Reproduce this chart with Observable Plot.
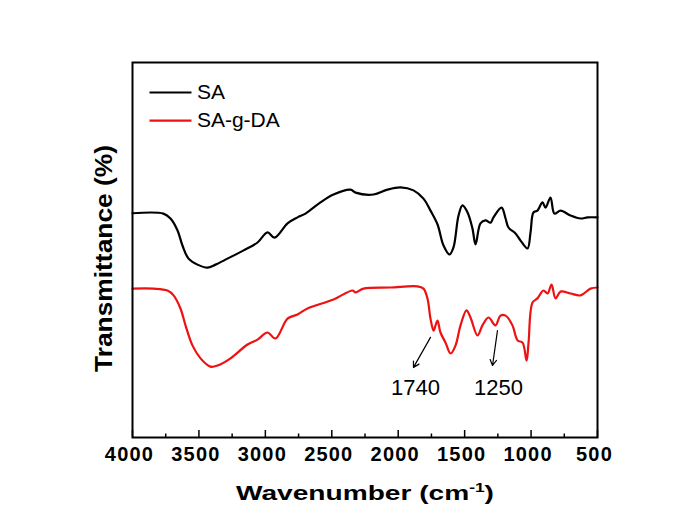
<!DOCTYPE html>
<html>
<head>
<meta charset="utf-8">
<script src="https://cdn.jsdelivr.net/npm/d3@7"></script>
<script src="https://cdn.jsdelivr.net/npm/@observablehq/plot@0.6"></script>
<style>
  html, body { margin: 0; padding: 0; background: #fff; }
  #chart svg { font-family: "Liberation Sans", Arial, sans-serif; }
  g[aria-label="x-axis tick label"] text { letter-spacing: 1.2px; }
</style>
</head>
<body>
<div id="chart"></div>
<script>
// ---- data (y is relative transmittance) ----
const saWavenumber = [4000,3767,3714,3661,3624,3578,3511,3435,3375,3285,3164,3059,2984,2931,2833,2758,2698,2585,2487,2359,2321,2186,2081,1983,1885,1810,1757,1704,1659,1614,1584,1546,1516,1478,1441,1418,1381,1343,1305,1283,1222,1192,1170,1117,1079,1027,1004,982,952,914,891,854,824,778,703,628,575,500];
const saTransmittance = [59.8,59.7,58.4,55.2,51.2,47.7,46.1,45.3,46.1,47.7,49.9,52.0,54.7,53.3,57.1,58.7,59.7,62.7,64.8,66.1,65.3,64.8,66.1,66.7,65.9,63.7,60.5,56.8,51.2,48.8,50.7,59.2,61.9,60.0,55.7,51.5,57.1,57.9,57.3,58.7,61.3,58.4,56.0,54.4,52.5,50.4,54.7,60.0,60.5,62.7,61.3,64.0,59.7,60.5,59.2,58.4,58.7,58.7];

const sagdaWavenumber = [4000,3842,3737,3691,3639,3601,3548,3488,3413,3360,3262,3134,3059,2984,2924,2833,2758,2683,2487,2344,2321,2261,2058,1855,1810,1780,1757,1734,1719,1704,1682,1644,1606,1569,1531,1486,1456,1403,1366,1320,1268,1230,1192,1140,1102,1064,1034,1019,989,952,907,876,846,816,778,703,628,553,500];
const sagdaTransmittance = [39.7,39.7,39.2,37.9,34.4,29.9,24.5,21.1,18.9,19.2,21.1,24.8,26.1,28.0,26.4,31.7,32.8,34.4,36.8,39.2,38.7,39.7,40.0,40.3,39.7,37.1,31.7,28.5,29.9,31.2,28.0,25.3,22.4,24.5,29.9,33.9,32.0,27.2,29.9,32.0,29.9,32.5,32.5,29.9,25.9,25.3,20.5,25.3,36.0,37.1,39.2,38.4,40.8,37.1,38.9,38.4,37.9,39.7,40.0];

const seriesNames = ["SA", "SA-g-DA"];
const seriesColors = ["#000000", "#ee1111"];

const xTicks = [4000, 3500, 3000, 2500, 2000, 1500, 1000, 500];
const xMinorTicks = [3750, 3250, 2750, 2250, 1750, 1250, 750];

const annotationLabels = ["1740", "1250"];

// ---- tables ----
const sa = saWavenumber.map((w, i) => ({w, t: saTransmittance[i]}));
const sagda = sagdaWavenumber.map((w, i) => ({w, t: sagdaTransmittance[i]}));
const legend = seriesNames.map((name, i) => ({name, color: seriesColors[i], row: i}));
const arrows = [
  {label: annotationLabels[0], x1: 1757, y1: 26.7, x2: 1885, y2: 18.7, tx: 1870},
  {label: annotationLabels[1], x1: 1253, y1: 28.5, x2: 1290, y2: 19.2, tx: 1245}
];

const font = "Liberation Sans, Arial, sans-serif";

const chart = Plot.plot({
  width: 678,
  height: 515,
  marginLeft: 132,
  marginRight: 81,
  marginTop: 62,
  marginBottom: 78,
  style: {fontFamily: font, background: "#fff", color: "#000"},
  x: {domain: [4000, 500]},
  y: {domain: [0, 100], axis: null},
  marks: [
    Plot.axisX({ticks: xTicks, tickSize: -7, text: null, strokeWidth: 1.5}),
    Plot.axisX({ticks: xMinorTicks, tickSize: -3.5, text: null, strokeWidth: 1.5}),
    Plot.axisX({ticks: xTicks, tickSize: 0, tickPadding: 9, tickFormat: d => String(d), fontSize: 20, fontWeight: "bold", label: null, dx: -3}),
    Plot.line(sa, {x: "w", y: "t", stroke: seriesColors[0], strokeWidth: 2.2, curve: "catmull-rom"}),
    Plot.line(sagda, {x: "w", y: "t", stroke: seriesColors[1], strokeWidth: 2.2, curve: "catmull-rom"}),
    Plot.link(legend, {x1: 3872, x2: 3556, y1: d => 92 - d.row * 7.5, y2: d => 92 - d.row * 7.5, stroke: "color", strokeWidth: 2.2}),
    Plot.text(legend, {x: 3515, y: d => 92 - d.row * 7.5, text: "name", textAnchor: "start", fontSize: 21, fill: "#000"}),
    Plot.arrow(arrows, {x1: "x1", y1: "y1", x2: "x2", y2: "y2", stroke: "#000", strokeWidth: 1.2, headLength: 8, bend: 0}),
    Plot.text(arrows, {x: "tx", y: 13.3, text: "label", fontSize: 22, fill: "#000", lineAnchor: "middle"}),
    Plot.text(["Transmittance (%)"], {frameAnchor: "left", textAnchor: "middle", rotate: -90, dx: -28, dy: 8.5, fontSize: 24, fontWeight: "bold", fill: "#000"}),
    Plot.text(["Wavenumber (cm-1)"], {frameAnchor: "bottom", dy: 56, fontSize: 21, fontWeight: "bold", fill: "#000", lineAnchor: "middle"}),
    Plot.frame({stroke: "#000", strokeWidth: 2})
  ]
});

document.getElementById("chart").appendChild(chart);

// superscript for the x title and stretch of the two axis titles to the reference widths
d3.select(chart).selectAll("text").each(function () {
  const el = d3.select(this);
  const s = this.textContent;
  if (s === "Wavenumber (cm-1)") {
    el.text(null);
    el.append("tspan").text("Wavenumber (cm");
    el.append("tspan").attr("dy", -8).attr("font-size", 13).text("-1");
    el.append("tspan").attr("dy", 8).text(")");
    el.attr("textLength", 258).attr("lengthAdjust", "spacingAndGlyphs");
  } else if (s === "Transmittance (%)") {
    el.attr("textLength", 227).attr("lengthAdjust", "spacingAndGlyphs");
  }
});
</script>
</body>
</html>
